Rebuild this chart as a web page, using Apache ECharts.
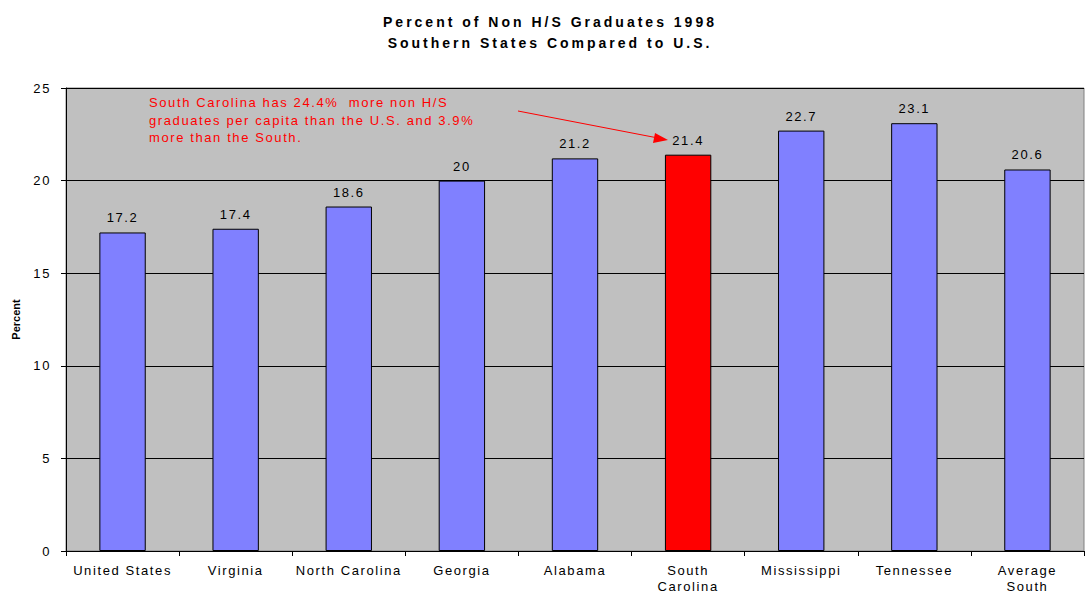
<!DOCTYPE html>
<html><head><meta charset="utf-8">
<script src="https://cdn.jsdelivr.net/npm/echarts@6/dist/echarts.min.js"></script>
<style>html,body{margin:0;padding:0;background:#fff}#c{width:1086px;height:594px}#c svg text{letter-spacing:1.6px}</style>
</head><body><div id="c"></div>
<script>
const categories = ['United States','Virginia','North Carolina','Georgia','Alabama','South\nCarolina','Mississippi','Tennessee','Average\nSouth'];
const values = [17.2, 17.4, 18.6, 20, 21.2, 21.4, 22.7, 23.1, 20.6];
const highlightIndex = 5;
const yTicks = [0, 5, 10, 15, 20, 25];
const titleLines = ['Percent of Non H/S Graduates 1998', 'Southern States Compared to U.S.'];
const noteLines = ['South Carolina has 24.4%  more non H/S', 'graduates per capita than the U.S. and 3.9%', 'more than the South.'];

const chart = echarts.init(document.getElementById('c'), null, { renderer: 'svg' });
const font = 'Liberation Sans, Arial, sans-serif';
chart.setOption({
  animation: false,
  title: {
    text: titleLines.join('\n'),
    left: 545, top: 6, textAlign: 'center',
    textStyle: { fontFamily: font, fontSize: 14, fontWeight: 'bold', color: '#000', lineHeight: 21 }
  },
  grid: { left: 66, right: 2, top: 88, bottom: 37, show: true, backgroundColor: '#c0c0c0', borderColor: '#808080', borderWidth: 1 },
  xAxis: {
    type: 'category', data: categories,
    axisLine: { lineStyle: { color: '#000', width: 1 } },
    axisTick: { show: true, length: 5, lineStyle: { color: '#000' } },
    axisLabel: { fontFamily: font, fontSize: 13, color: '#000', margin: 11, lineHeight: 16, interval: 0 }
  },
  yAxis: {
    type: 'value', min: yTicks[0], max: yTicks[yTicks.length - 1], interval: 5,
    name: 'Percent', nameLocation: 'middle', nameGap: 45, nameRotate: 90,
    nameTextStyle: { fontFamily: font, fontSize: 11, fontWeight: 'bold', color: '#000' },
    axisLine: { show: true, lineStyle: { color: '#000', width: 1 } },
    axisTick: { show: true, length: 5, lineStyle: { color: '#000' } },
    axisLabel: { fontFamily: font, fontSize: 13, color: '#000', margin: 15 },
    splitLine: { show: true, lineStyle: { color: '#000', width: 1 } }
  },
  series: [{
    type: 'bar', barWidth: '41%',
    data: values.map((v, i) => ({
      value: v,
      itemStyle: { color: i === highlightIndex ? '#ff0000' : '#8080ff', borderColor: '#000', borderWidth: 1 }
    })),
    label: { show: true, position: 'top', distance: 8, fontFamily: font, fontSize: 13, color: '#000' }
  }],
  graphic: [
    { type: 'text', left: 149, top: 94, style: { text: noteLines.join('\n'), fill: '#ff0000', font: '13px ' + font, lineHeight: 17.5 } },
    { type: 'line', shape: { x1: 518, y1: 111, x2: 658, y2: 138 }, style: { stroke: '#ff0000', lineWidth: 1 } },
    { type: 'polygon', shape: { points: [[668, 140], [655, 133], [653, 143]] }, style: { fill: '#ff0000' } }
  ]
});
function spacing() {
  document.querySelectorAll('#c svg text').forEach(el => {
    const cs = getComputedStyle(el);
    const fs = parseFloat(cs.fontSize);
    const bold = cs.fontWeight === 'bold' || parseInt(cs.fontWeight) >= 600;
    let ls = '1.6px';
    if (bold && fs >= 14) ls = '3px';
    else if (bold && fs <= 11.5) ls = '0px';
    el.style.letterSpacing = ls;
  });
}
spacing();
chart.on('finished', spacing);
</script></body></html>
